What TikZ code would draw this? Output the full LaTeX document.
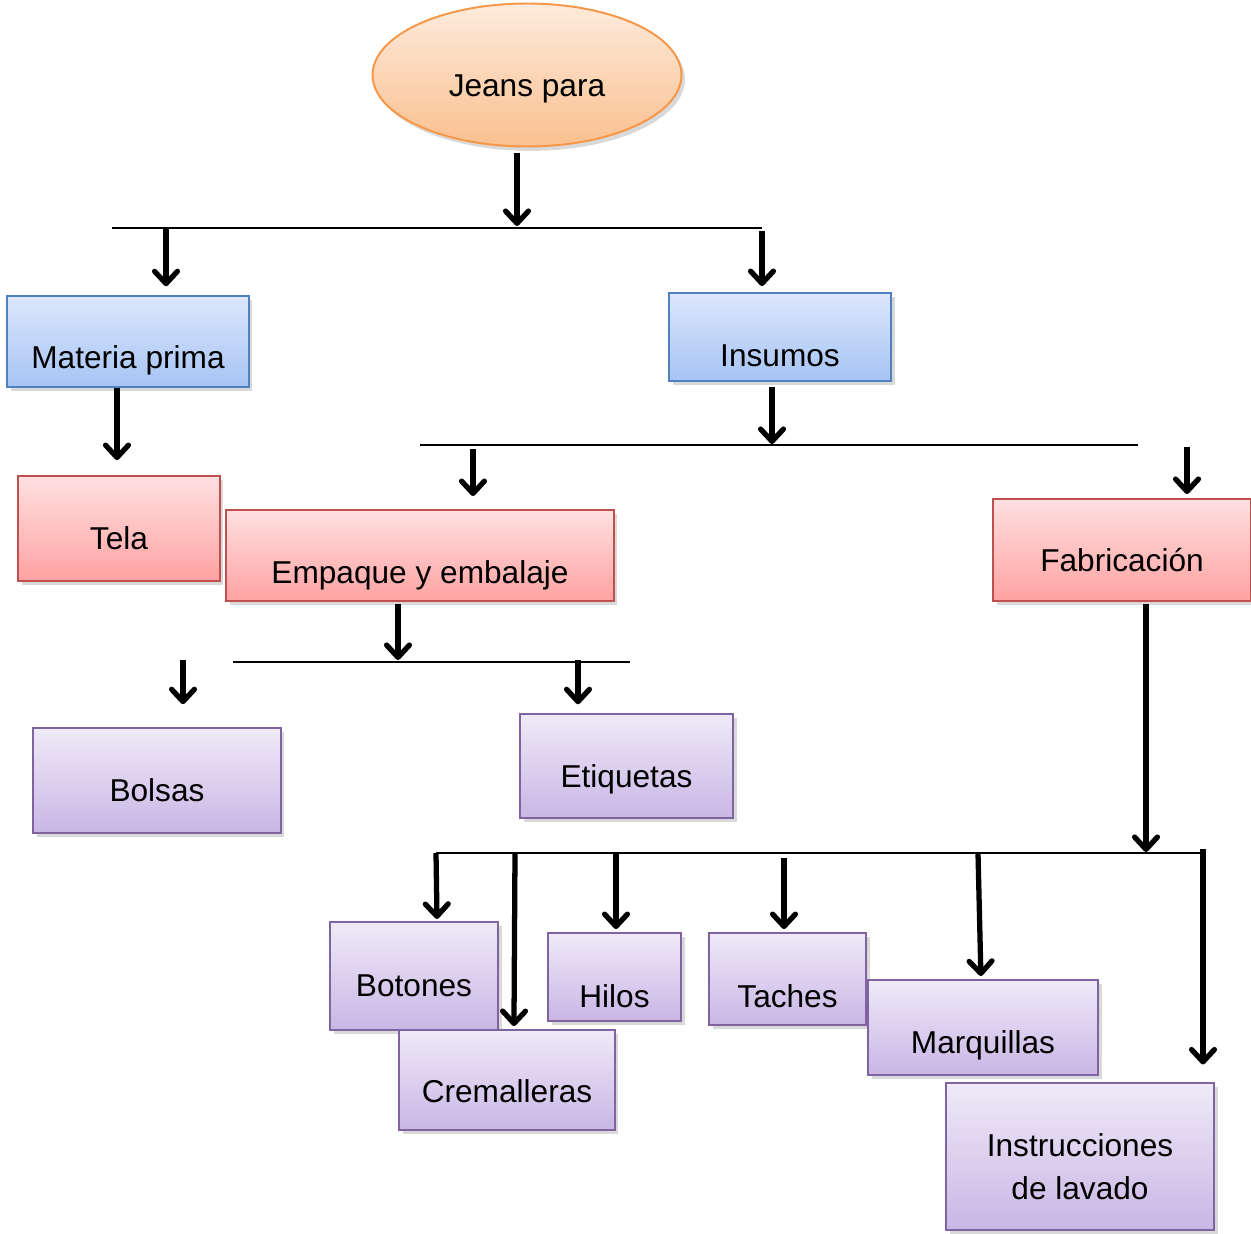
\documentclass[tikz,border=0pt]{standalone}
\usepackage{fontspec}
\setmainfont{Liberation Sans}
\usetikzlibrary{arrows.meta,shadows,calc,shapes.geometric}
\definecolor{orT}{HTML}{FDEBDC}
\definecolor{orB}{HTML}{FAC08F}
\definecolor{orD}{HTML}{F79646}
\definecolor{blT}{HTML}{DCE6FB}
\definecolor{blB}{HTML}{A6C4F5}
\definecolor{blD}{HTML}{4F81BD}
\definecolor{rdT}{HTML}{FFE0E0}
\definecolor{rdB}{HTML}{FFA2A2}
\definecolor{rdD}{HTML}{C0504D}
\definecolor{puT}{HTML}{EFEAF8}
\definecolor{puB}{HTML}{C9B6E5}
\definecolor{puD}{HTML}{8064A2}
\begin{document}
\begin{tikzpicture}[x=0.02cm,y=-0.02cm,
  font=\fontsize{18}{24.5}\selectfont,
  base/.style={line width=1.1pt, inner sep=0pt,
    drop shadow={opacity=0.3, shadow xshift=2pt, shadow yshift=-2.5pt}},
  bluebox/.style={base, rectangle, draw=blD, top color=blT, bottom color=blB},
  redbox/.style={base, rectangle, draw=rdD, top color=rdT, bottom color=rdB},
  purbox/.style={base, rectangle, draw=puD, top color=puT, bottom color=puB},
  txt/.style={inner sep=0pt, anchor=base, align=center},
  arr/.style={line width=3pt, -{Straight Barb[length=7pt,width=13pt,line cap=round,line join=round]}},
  hline/.style={line width=1.1pt}]
\useasboundingbox (0,0) rectangle (1251,1234);

% root ellipse
\node[base, ellipse, draw=orD, top color=orT, bottom color=orB,
      minimum width=6.18cm, minimum height=2.86cm] (jeans) at (527,75) {};
\node[txt] (jeansT) at (527,96) {Jeans para};

% boxes
\node[bluebox, minimum width=4.84cm, minimum height=1.82cm] (mp) at (128,341.5) {};
\node[txt] (mpT) at (128,368) {Materia prima};
\node[bluebox, minimum width=4.44cm, minimum height=1.76cm] (ins) at (780,337) {};
\node[txt] (insT) at (780,366) {Insumos};

\node[redbox, minimum width=4.04cm, minimum height=2.10cm] (tela) at (119,528.5) {};
\node[txt] (telaT) at (119,549) {Tela};
\node[redbox, minimum width=7.76cm, minimum height=1.82cm] (emp) at (420,555.5) {};
\node[txt] (empT) at (420,583) {Empaque y embalaje};
\node[redbox, minimum width=5.16cm, minimum height=2.04cm] (fab) at (1122,550) {};
\node[txt] (fabT) at (1122,571) {Fabricación};

\node[purbox, minimum width=4.96cm, minimum height=2.10cm] (bol) at (157,780.5) {};
\node[txt] (bolT) at (157,801) {Bolsas};
\node[purbox, minimum width=4.26cm, minimum height=2.08cm] (eti) at (626.5,766) {};
\node[txt] (etiT) at (626.5,787) {Etiquetas};

\node[purbox, minimum width=3.36cm, minimum height=2.16cm] (bot) at (414,976) {};
\node[txt] (botT) at (414,996) {Botones};
\node[purbox, minimum width=2.66cm, minimum height=1.76cm] (hil) at (614.5,977) {};
\node[txt] (hilT) at (614.5,1007) {Hilos};
\node[purbox, minimum width=3.14cm, minimum height=1.84cm] (tac) at (787.5,979) {};
\node[txt] (tacT) at (787.5,1007) {Taches};
\node[purbox, minimum width=4.60cm, minimum height=1.90cm] (mar) at (983,1027.5) {};
\node[txt] (marT) at (983,1053) {Marquillas};
\node[purbox, minimum width=4.32cm, minimum height=2.00cm] (cre) at (507,1080) {};
\node[txt] (creT) at (507,1102) {Cremalleras};
\node[purbox, minimum width=5.36cm, minimum height=2.94cm] (ins2) at (1080,1156.5) {};
\node[txt, anchor=center] (ins2T) at (1080,1167) {Instrucciones\\de lavado};

% horizontal bus lines
\coordinate (l1a) at (112,228);  \coordinate (l1b) at (762,228);
\coordinate (l2a) at (420,445);  \coordinate (l2b) at (1138,445);
\coordinate (l3a) at (233,662);  \coordinate (l3b) at (630,662);
\coordinate (l4a) at (436,853);  \coordinate (l4b) at (1203,853);
\draw[hline] (l1a) -- (l1b);
\draw[hline] (l2a) -- (l2b);
\draw[hline] (l3a) -- (l3b);
\draw[hline] (l4a) -- (l4b);

% level 1
\coordinate (j1) at (517,226);
\draw[arr, shorten <=3pt] (j1 |- jeans.south) -- (j1);
\coordinate (a1) at (166,229);
\draw[arr, shorten >=5pt] (a1) -- (a1 |- mp.north);
\coordinate (a2) at (762,231);
\draw[arr, shorten >=3.4pt] (a2) -- (a2 |- ins.north);

% level 2
\coordinate (m1) at (117,388);
\draw[arr, shorten >=8.5pt] (m1 |- mp.south) -- (m1 |- tela.north);
\coordinate (i1) at (772,444);
\draw[arr, shorten <=3pt] (i1 |- ins.south) -- (i1);
\coordinate (b1) at (473,449);
\draw[arr, shorten >=7.4pt] (b1) -- (b1 |- emp.north);
\coordinate (b2) at (1187,447);
\draw[arr, shorten >=2.3pt] (b2) -- (b2 |- fab.north);

% level 3
\coordinate (e1) at (398,660);
\draw[arr, shorten <=1pt] (e1 |- emp.south) -- (e1);
\coordinate (c1) at (183,660);
\draw[arr, shorten >=13pt] (c1) -- (c1 |- bol.north);
\coordinate (c2) at (578,660);
\draw[arr, shorten >=5pt] (c2) -- (c2 |- eti.north);
\coordinate (f1) at (1146,852);
\draw[arr, shorten <=1pt] (f1 |- fab.south) -- (f1);

% level 4
\coordinate (d1) at (436,853);
\draw[arr, shorten >=1.2pt] (d1) -- ([xshift=0.6pt]d1 |- bot.north);
\coordinate (d2) at (515,853);
\draw[arr, shorten >=1.7pt] (d2) -- ([xshift=-0.6pt]d2 |- cre.north);
\coordinate (d3) at (616,853);
\draw[arr, shorten >=1.7pt] (d3) -- (d3 |- hil.north);
\coordinate (d4) at (784,858);
\draw[arr, shorten >=1.7pt] (d4) -- (d4 |- tac.north);
\coordinate (d5) at (978,853);
\draw[arr, shorten >=1.7pt] (d5) -- ([xshift=1.7pt]d5 |- mar.north);
\coordinate (d6) at (1203,849);
\draw[arr, shorten >=10pt] (d6) -- (d6 |- ins2.north);
\end{tikzpicture}
\end{document}
